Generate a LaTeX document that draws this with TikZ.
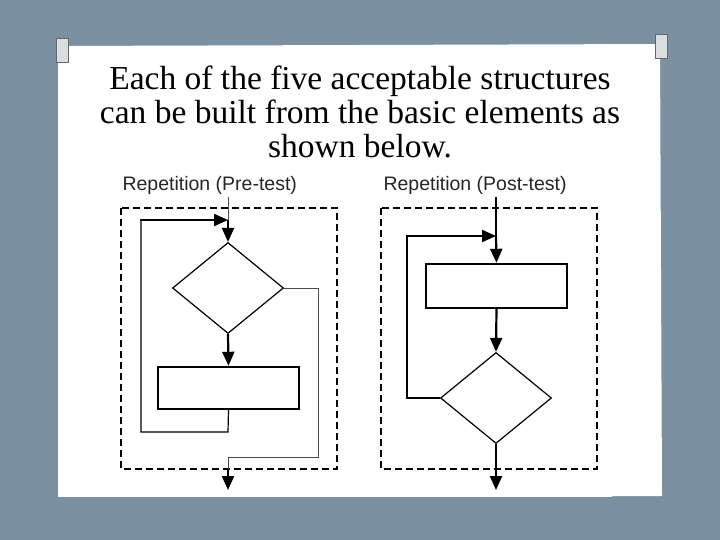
\documentclass[tikz,border=0pt]{standalone}
\usepackage{fontspec}
\setmainfont{Liberation Serif}
\setsansfont{Liberation Sans}
\usetikzlibrary{shapes.geometric,arrows.meta}
\definecolor{slate}{HTML}{7B91A2}
\definecolor{pinc}{HTML}{D8DDE0}
\tikzset{
  flow/.style={line width=2.2pt},
  thin flow/.style={line width=0.8pt, draw=black!70},
  arr/.style={-{Triangle[length=14pt,width=12pt]}},
  dec/.style={diamond, draw, line width=1.2pt, inner sep=0pt, minimum width=111pt, minimum height=91pt},
  proc/.style={rectangle, draw, line width=2.4pt, inner sep=0pt},
  frame/.style={draw, dashed, dash pattern=on 7pt off 4pt, line width=2pt}
}
\begin{document}
\begin{tikzpicture}[x=1pt,y=-1pt]
\useasboundingbox (0,0) rectangle (720,540);
\fill[slate] (0,0) rectangle (720,540);
% paper and pins
\fill[white] (58,46) -- (660,44) -- (662,496) -- (58,497) -- cycle;
\fill[pinc, draw=black!60] (56,38) rectangle (68,62);
\fill[pinc, draw=black!60] (655,34) rectangle (667,58);
% title
\node[font=\fontsize{33.5}{34}\selectfont, align=center] (title) at (360,112)
  {Each of the five acceptable structures\\can be built from the basic elements as\\shown below.};
\fill[white] (108,172) rectangle (612,497);
% left: pre-test
\node[font=\sffamily\fontsize{19.5}{20}\selectfont, text=black!85, anchor=west] (ltitle) at (119,185) {Repetition (Pre-test)};
\draw[frame] (121,208) rectangle (337,469);
\node[dec] (ldec) at (228,288) {};
\node[proc, minimum width=141pt, minimum height=42pt] (lproc) at (228.5,388) {};
\coordinate (lin) at (228,197);
\coordinate (lloop) at (228,220);
\coordinate (lout) at (228,490);
\draw[thin flow] (lin) -- (lloop);
\draw[flow, arr] (lloop) -- (ldec.north);
\draw[flow, arr] (ldec.south) -- (lproc.north);
\draw[thin flow, line width=1.2pt, draw=black] (lproc.south) -- (228,432) -- (141,432) -- (141,220);
\draw[flow, arr] (141,221.1) -- (141,220) -- (lloop);
\draw[thin flow] (ldec.east) -- (318,288) -- (318,457) -- (228,457) -- (228,470);
\draw[flow, arr] (228,469) -- (lout);
% right: post-test
\node[font=\sffamily\fontsize{19.5}{20}\selectfont, text=black!85, anchor=west] (rtitle) at (380,185) {Repetition (Post-test)};
\draw[frame] (381,208) rectangle (597,469);
\node[proc, minimum width=141pt, minimum height=44pt] (rproc) at (496.5,286) {};
\node[dec] (rdec) at (496,398) {};
\coordinate (rin) at (496,197);
\coordinate (rloop) at (496,236);
\coordinate (rout) at (496,490);
\draw[flow] (rin) -- (rloop);
\draw[flow, arr] (rloop) -- (rproc.north);
\draw[flow, arr] (rproc.south) -- (rdec.north);
\draw[flow, arr] (rdec.west) -- (407,398) -- (407,236) -- (rloop);
\draw[flow, arr] (rdec.south) -- (rout);
\end{tikzpicture}
\end{document}
